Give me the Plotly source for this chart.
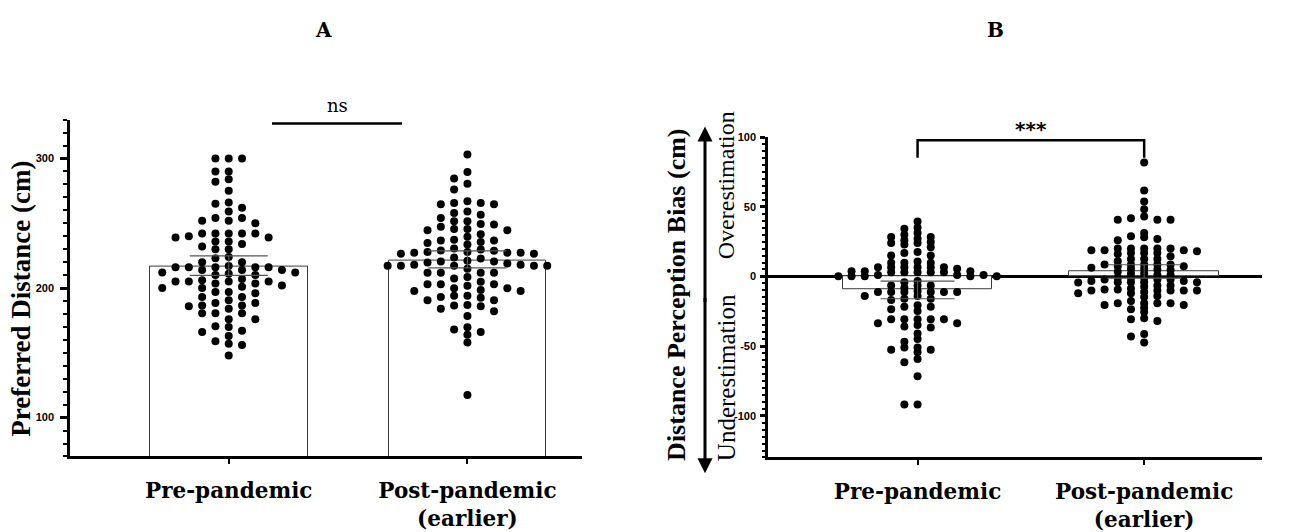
import plotly.graph_objects as go
import numpy as np

categories = ["Pre-pandemic", "Post-pandemic<br>(earlier)"]

pref_pre = [300, 300, 300, 290, 290, 284, 282, 275, 266, 265, 262, 259, 254, 254, 252, 252, 250,
            242, 242, 242, 242, 242, 240, 239, 239, 236, 236, 234, 232, 230, 230, 224, 223, 220, 220,
            217, 216, 216, 216, 216, 216, 214, 214, 214, 212, 212, 211, 210, 210, 207, 206, 205, 205,
            205, 205, 203.5, 203.5, 202, 201, 200, 200, 197, 197, 196, 193, 193, 190.5, 188.5, 188.5,
            186.5, 186.5, 186, 184, 180.5, 180.5, 180.5, 176, 176, 170.5, 170, 167, 166, 163, 159, 157,
            156, 148]
pref_post = [303, 289.5, 284.5, 280.5, 276, 267, 265.7, 265.7, 264.7, 264.7, 259, 258, 256.6, 254,
             251.6, 251.6, 249.4, 249, 247.4, 245.6, 245.6, 244.6, 244.6, 241.6, 239.6, 237.3, 236.6,
             236.6, 235.6, 234.8, 233.6, 230.6, 229.8, 229, 228.7, 227.8, 227.8, 227.3, 227.3, 227.3,
             226.5, 226.5, 223.5, 222.8, 221, 220.5, 220.5, 219.8, 219, 218, 218, 217.3, 217.3, 217.3,
             217.3, 217.3, 214.8, 211.8, 211.8, 211.8, 211.8, 208.5, 207.3, 204.8, 203, 203, 203, 201.7,
             199.8, 199.8, 198.5, 197.7, 197.7, 194, 194, 193, 192.5, 190.5, 190.5, 187, 186.5, 186, 184,
             182, 178.4, 169.7, 168, 166, 164, 158, 117.5]
bias_pre = [39.5, 35.2, 34.3, 31.2, 30, 28.3, 28.3, 27.1, 26, 24.8, 24, 24, 22.9, 21, 17.6, 16.9, 15, 15,
            10.7, 9.8, 9.8, 9.8, 6.7, 6.7, 6.7, 6.7, 6.7, 6.7, 5.5, 3.8, 3.8, 3.8, 3.1, 3.1, 3.1, 3.1, 3.1,
            1, 1, 1, 0.2, 0.2, 0.2, 0.2, 0.2, -3.3, -4.1, -6.4, -6.4, -6.4, -8.1, -10.5, -11.2, -11.2,
            -11.2, -11.2, -11.2, -11.2, -14, -14, -16, -16, -16.9, -20.7, -21.7, -21.7, -23.6, -24.8,
            -30.7, -30.7, -30.7, -30.7, -30.7, -33.6, -33.6, -34.8, -36, -36.7, -41, -45, -46.9, -51, -51,
            -52.6, -52.6, -54.5, -59.3, -61.7, -71.7, -91.9, -91.9]
bias_post = [81.9, 61.7, 53.8, 48.3, 43.1, 41.9, 40.7, 40.7, 40.7, 31.2, 28.8, 28.1, 26.9, 26, 20, 20, 20,
             20, 20, 18.8, 18.8, 18.8, 18.1, 16.9, 16.9, 16.9, 16.2, 14.5, 12.6, 12.6, 12.6, 10.9, 8.6,
             8.6, 8.6, 8.6, 8.6, 7.4, 7.4, 6.2, 5.5, 5.5, 5, 4.7, 3.3, 2.1, 2.1, 1, 1, -1, -1, -1, -2.1,
             -2.1, -2.1, -3.3, -3.3, -4.1, -4.1, -4.1, -4.1, -4.3, -6.4, -6.4, -7.4, -8.6, -9.3, -9.3, -10,
             -10, -10, -10, -10, -11.2, -12.1, -12.1, -14, -14.8, -17.6, -19.3, -19.3, -19.3, -19.3, -20.5,
             -20.5, -22.4, -23.6, -25.5, -30, -30.7, -31.9, -41.4, -43.1, -47.4]

pref_mean = [216.8, 221.5]
pref_ci_low = [209.8, 215.5]
pref_ci_high = [224.8, 228.7]
bias_mean = [-9.5, 3.5]
bias_ci_low = [-16.0, -1.2]
bias_ci_high = [-3.3, 8.4]

a_ticks = [100, 200, 300]
b_ticks = [-100, -50, 0, 50, 100]
b_ticklabels = ["-100", "-50", "0", "50", "100"]

W, H = 1304, 532
# layout geometry (pixels)
A_x0, A_x1, A_y0, A_y1 = 70, 582, 116, 460
B_x0, B_x1, B_y0, B_y1 = 768, 1262, 134, 461
A_xr = [-0.665, 1.48]
A_yr = [70, 330]
B_xr = [-0.66, 1.52]
B_yr = [-130, 100]


def swarm(values, center, x0, x1, xr, y0, y1, yr, col_px=13.3, dot_px=7.6):
    pxx = (x1 - x0) / (xr[1] - xr[0])
    pxy = (y1 - y0) / (yr[1] - yr[0])
    vals = np.asarray(values, dtype=float)
    order = np.argsort(-vals, kind="stable")
    cols = {}
    xs = np.zeros(len(vals))
    tries = [0]
    for k in range(1, 40):
        tries += [-k, k]
    for i in order:
        yp = vals[i] * pxy
        for k in tries:
            if all(abs(yp - q) >= dot_px for q in cols.get(k, [])):
                cols.setdefault(k, []).append(yp)
                xs[i] = center + k * col_px / pxx
                break
    return xs


def px_to_paper_x(p):
    return p / W


def px_to_paper_y(p):
    return 1 - p / H


def data_to_paper_x(v, x0, x1, xr):
    return (x0 + (v - xr[0]) / (xr[1] - xr[0]) * (x1 - x0)) / W


fig = go.Figure()

bar_style = dict(color="white", line=dict(color="#3a3a3a", width=1))
err_style = dict(type="data", symmetric=False, thickness=1.2, color="#555555")

# Panel A
fig.add_trace(go.Bar(x=[0, 1], y=pref_mean, width=0.66, marker=bar_style, xaxis="x", yaxis="y",
                     showlegend=False))
for i, vals in enumerate([pref_pre, pref_post]):
    xs = swarm(vals, i, A_x0, A_x1, A_xr, A_y0, A_y1, A_yr, col_px=13.3, dot_px=7.4)
    fig.add_trace(go.Scatter(x=xs, y=vals, mode="markers", marker=dict(color="black", size=8),
                             xaxis="x", yaxis="y", showlegend=False, cliponaxis=False))
fig.add_trace(go.Scatter(x=[0, 1], y=pref_mean, mode="markers",
                         marker=dict(color="rgba(0,0,0,0)", size=1),
                         error_y=dict(err_style, array=[h - m for h, m in zip(pref_ci_high, pref_mean)],
                                      arrayminus=[m - l for l, m in zip(pref_ci_low, pref_mean)], width=39),
                         xaxis="x", yaxis="y", showlegend=False))

# Panel B
fig.add_trace(go.Bar(x=[0, 1], y=bias_mean, width=0.66, marker=bar_style, xaxis="x2", yaxis="y2",
                     showlegend=False))
for i, vals in enumerate([bias_pre, bias_post]):
    xs = swarm(vals, i, B_x0, B_x1, B_xr, B_y0, B_y1, B_yr, col_px=13.2, dot_px=4.3)
    fig.add_trace(go.Scatter(x=xs, y=vals, mode="markers", marker=dict(color="black", size=8),
                             xaxis="x2", yaxis="y2", showlegend=False, cliponaxis=False))
fig.add_trace(go.Scatter(x=[0, 1], y=bias_mean, mode="markers",
                         marker=dict(color="rgba(0,0,0,0)", size=1),
                         error_y=dict(err_style, array=[h - m for h, m in zip(bias_ci_high, bias_mean)],
                                      arrayminus=[m - l for l, m in zip(bias_ci_low, bias_mean)], width=37),
                         xaxis="x2", yaxis="y2", showlegend=False))

xfont = dict(family="DejaVu Serif", size=21.5, color="black", weight="bold")
yfont = dict(family="Liberation Sans", size=11, color="black", weight="bold")
common_x = dict(tickvals=[0, 1], ticktext=categories, showline=True, linewidth=2.5, linecolor="black",
                ticks="outside", ticklen=5, tickwidth=2, tickcolor="black", tickfont=xfont,
                showgrid=False, zeroline=False, ticklabelstandoff=8, fixedrange=True)
common_y = dict(showline=True, linewidth=2.5, linecolor="black", ticks="outside", tickwidth=2.5,
                tickcolor="black", tickfont=yfont, showgrid=False, fixedrange=True)

fig.update_layout(
    width=W, height=H, margin=dict(l=0, r=0, t=0, b=0),
    paper_bgcolor="white", plot_bgcolor="white", bargap=0,
    xaxis=dict(common_x, domain=[A_x0 / W, A_x1 / W], range=A_xr, anchor="y"),
    yaxis=dict(common_y, domain=[1 - A_y1 / H, 1 - A_y0 / H], range=A_yr, tickvals=a_ticks,
               ticklen=7, zeroline=False, ticklabelstandoff=4, anchor="x",
               minor=dict(dtick=10, tick0=0, ticklen=4, tickwidth=2, ticks="outside", tickcolor="black")),
    xaxis2=dict(common_x, domain=[B_x0 / W, B_x1 / W], range=B_xr, anchor="y2"),
    yaxis2=dict(common_y, domain=[1 - B_y1 / H, 1 - B_y0 / H], range=B_yr, tickvals=b_ticks,
                ticktext=b_ticklabels,
                ticklen=5, zeroline=True, zerolinewidth=2.5, zerolinecolor="black", ticklabelstandoff=2,
                anchor="x2",
                minor=dict(dtick=5, tick0=0, ticklen=3, tickwidth=1.5, ticks="outside", tickcolor="black")),
)

shapes = []
annotations = []


def note(text, xp, yp, size, family, angle=0, color="black"):
    annotations.append(dict(text=text, xref="paper", yref="paper", x=px_to_paper_x(xp), y=px_to_paper_y(yp),
                            xanchor="center", yanchor="middle", textangle=angle, showarrow=False,
                            font=dict(family=family, size=size, color=color)))


# ns line (panel A)
shapes.append(dict(type="line", xref="paper", yref="paper",
                   x0=px_to_paper_x(272), x1=px_to_paper_x(402),
                   y0=px_to_paper_y(120), y1=px_to_paper_y(120),
                   line=dict(color="black", width=2.5)))
note("ns", 337, 102, 18, "DejaVu Serif")

# significance bracket (panel B)
bx0 = data_to_paper_x(0, B_x0, B_x1, B_xr)
bx1 = data_to_paper_x(1, B_x0, B_x1, B_xr)
ytop = px_to_paper_y(137)
ybot = px_to_paper_y(155)
shapes.append(dict(type="path", xref="paper", yref="paper",
                   path=f"M {bx0},{ybot} L {bx0},{ytop} L {bx1},{ytop} L {bx1},{ybot}",
                   line=dict(color="black", width=2.5)))
annotations.append(dict(text="<b>***</b>", xref="paper", yref="paper", x=(bx0 + bx1) / 2, y=px_to_paper_y(126),
                        xanchor="center", yanchor="middle", showarrow=False,
                        font=dict(family="DejaVu Sans", size=20, color="black")))

# panel letters
note("<b>A</b>", 323, 25, 20, "DejaVu Serif")
note("<b>B</b>", 995, 25, 20, "DejaVu Serif")

# y axis titles
note("<b>Preferred Distance (cm)</b>", 21, 299, 27, "Liberation Serif", angle=-90)
note("<b>Distance Perception Bias (cm)</b>", 677, 295, 26, "Liberation Serif", angle=-90)
note("Overestimation", 726, 183, 24, "Liberation Serif", angle=-90)
note("Underestimation", 726, 380, 25, "Liberation Serif", angle=-90)

# double-headed arrow
amid = (123 + 477) / 2
for tip in (123, 477):
    annotations.append(dict(text="", xref="paper", yref="paper", x=px_to_paper_x(705), y=px_to_paper_y(tip),
                            ax=0, ay=amid - tip, showarrow=True, arrowhead=2, arrowsize=1,
                            arrowwidth=3, arrowcolor="black"))

fig.update_layout(shapes=shapes, annotations=annotations)
fig.write_html("out.html")
